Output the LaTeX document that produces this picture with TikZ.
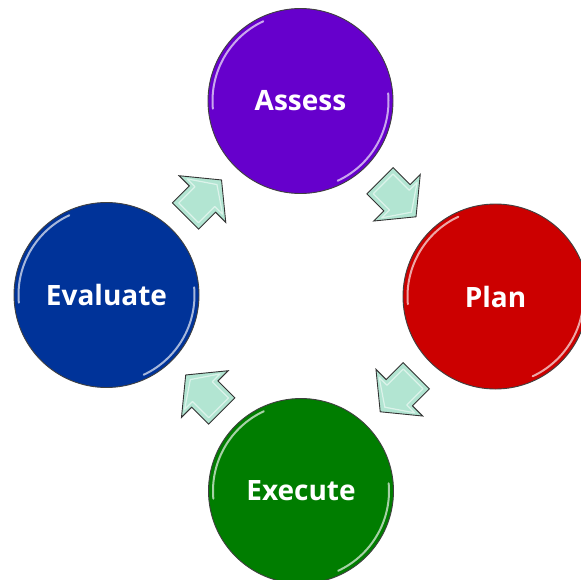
\documentclass[tikz,border=0pt]{standalone}
\usepackage{fontspec}
\setmainfont{Open Sans}
\usetikzlibrary{calc}
\definecolor{cassess}{RGB}{102,0,204}
\definecolor{cplan}{RGB}{204,0,0}
\definecolor{cexec}{RGB}{0,125,0}
\definecolor{ceval}{RGB}{0,51,153}
\definecolor{mint}{RGB}{178,229,210}
\tikzset{
  stage/.style={circle, minimum size=185pt, inner sep=0pt, draw=black!75, line width=0.9pt,
    text=white, font=\fontsize{28}{32}\selectfont\bfseries},
  arrowbody/.style={fill=mint, draw=black!80, line width=0.9pt, line join=miter},
  bevel/.style={draw=white, opacity=0.55, line width=1.2pt, line join=round},
  gloss/.style={draw=white, line width=2pt, opacity=0.65, line cap=round},
  pics/blockarrow/.style={code={
    \draw[arrowbody] (-25.5,-18.5) -- (-1.5,-18.5) -- (-1.5,-33) -- (25.5,0) -- (-1.5,33)
      -- (-1.5,18.5) -- (-25.5,18.5) -- cycle;
    \draw[bevel] (-21,-14) -- (2,-14) -- (2,-25) -- (19,0) -- (2,25) -- (2,14) -- (-21,14) -- cycle;
  }}
}
\begin{document}
\begin{tikzpicture}[x=1pt,y=-1pt]
\useasboundingbox (0,0) rectangle (581,579);
\clip (0,0) rectangle (581,579);
\node[stage, fill=cassess] (assess) at (300.5,101) {Assess};
\node[stage, fill=cplan] (plan) at (495.5,296.5) {Plan};
\node[stage, fill=cexec] (execute) at (301,491) {Execute};
\node[stage, fill=ceval] (evaluate) at (106.5,295) {Evaluate};
\foreach \n in {assess,plan,execute,evaluate}{
  \draw[gloss] (\n.center) ++(175:88) arc[start angle=175, end angle=245, radius=88];
  \draw[gloss] (\n.center) ++(-5:88) arc[start angle=-5, end angle=65, radius=88];
}
\path ($(evaluate)!0.5!(assess)$) pic[rotate=45] {blockarrow};
\path ($(assess)!0.5!(plan)$) pic[rotate=-45] {blockarrow};
\path ($(plan)!0.5!(execute)$) pic[rotate=-135] {blockarrow};
\path ($(execute)!0.5!(evaluate)$) pic[rotate=135] {blockarrow};
\end{tikzpicture}
\end{document}
